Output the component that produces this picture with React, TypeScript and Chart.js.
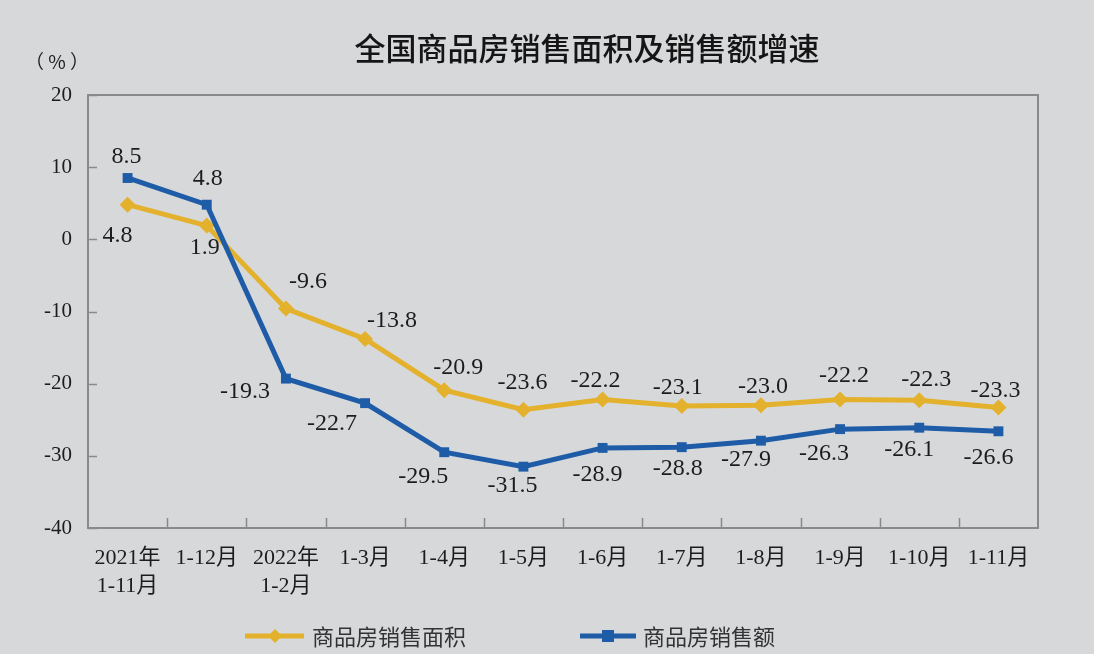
import React, { useEffect, useRef } from "react";
import { Chart, registerables } from "chart.js";

Chart.register(...registerables);

const chartTitle = "全国商品房销售面积及销售额增速";
const unitLabel = "（ % ）";
const categories: (string | string[])[] = [
  ["2021年", "1-11月"],
  "1-12月",
  ["2022年", "1-2月"],
  "1-3月",
  "1-4月",
  "1-5月",
  "1-6月",
  "1-7月",
  "1-8月",
  "1-9月",
  "1-10月",
  "1-11月",
];
const seriesNames = ["商品房销售面积", "商品房销售额"];
const areaGrowth = [4.8, 1.9, -9.6, -13.8, -20.9, -23.6, -22.2, -23.1, -23.0, -22.2, -22.3, -23.3];
const salesGrowth = [8.5, 4.8, -19.3, -22.7, -29.5, -31.5, -28.9, -28.8, -27.9, -26.3, -26.1, -26.6];
const yTicks = [20, 10, 0, -10, -20, -30, -40];

// label placement (pixel offsets from each point), kept separate from data
const areaLabelOffsets = [
  [-10, 31], [-2, 22], [22, -27], [27, -18], [14, -22], [-1, -27],
  [-7, -19], [-4, -18], [2, -19], [4, -24], [7, -21], [-3, -17],
];
const salesLabelOffsets = [
  [-1, -21], [1, -26], [-41, 13], [-33, 21], [-21, 24], [-11, 19],
  [-5, 27], [-4, 22], [-15, 19], [-16, 25], [-10, 22], [-10, 26],
];

const YELLOW = "#e3b12c";
const BLUE = "#1f5ca8";
const BG = "#d7d8da";
const AXIS = "#8a8a8a";
const TEXT = "#1c1c1c";
const SERIF = '"Liberation Serif", "DejaVu Serif", "Noto Sans CJK SC", serif';
const CJK = '"Noto Sans CJK SC", sans-serif';

export default function App() {
  const ref = useRef<HTMLCanvasElement>(null);

  useEffect(() => {
    const canvas = ref.current;
    if (!canvas) return;

    const overlay = {
      id: "overlay",
      beforeDraw(chart: any) {
        const c = chart.ctx;
        c.save();
        c.fillStyle = BG;
        c.fillRect(0, 0, chart.width, chart.height);
        c.restore();
      },
      afterDatasetsDraw(chart: any) {
        const c = chart.ctx;
        const { left, right, top, bottom } = chart.chartArea;
        const ys = chart.scales.y;
        c.save();
        // frame
        c.strokeStyle = AXIS;
        c.lineWidth = 2;
        c.strokeRect(left, top, right - left, bottom - top);
        // inner ticks y
        c.lineWidth = 1.5;
        yTicks.forEach((v) => {
          const y = Math.round(ys.getPixelForValue(v)) + 0.5;
          c.beginPath();
          c.moveTo(left, y);
          c.lineTo(left + 9, y);
          c.stroke();
        });
        // inner ticks x (category boundaries)
        const n = categories.length;
        const w = (right - left) / n;
        for (let i = 1; i < n; i++) {
          const x = Math.round(left + i * w) + 0.5;
          c.beginPath();
          c.moveTo(x, bottom);
          c.lineTo(x, bottom - 10);
          c.stroke();
        }
        // data labels
        c.fillStyle = TEXT;
        c.font = `24px ${SERIF}`;
        c.textAlign = "center";
        c.textBaseline = "middle";
        const drawLabels = (dsIndex: number, values: number[], offs: number[][]) => {
          const meta = chart.getDatasetMeta(dsIndex);
          meta.data.forEach((pt: any, i: number) => {
            const [dx, dy] = offs[i];
            c.fillText(values[i].toFixed(1), pt.x + dx, pt.y + dy);
          });
        };
        drawLabels(0, areaGrowth, areaLabelOffsets);
        drawLabels(1, salesGrowth, salesLabelOffsets);

        // title
        c.font = `500 31px ${CJK}`;
        c.fillStyle = "#151515";
        c.fillText(chartTitle, 587, 48);
        // unit
        c.font = `19px ${CJK}`;
        c.fillStyle = TEXT;
        c.fillText(unitLabel, 57, 62);

        // legend
        const ly = 636;
        c.lineWidth = 5;
        c.strokeStyle = YELLOW;
        c.beginPath();
        c.moveTo(245, ly);
        c.lineTo(304, ly);
        c.stroke();
        c.fillStyle = YELLOW;
        c.beginPath();
        c.moveTo(275, ly - 7);
        c.lineTo(282, ly);
        c.lineTo(275, ly + 7);
        c.lineTo(268, ly);
        c.closePath();
        c.fill();
        c.strokeStyle = BLUE;
        c.beginPath();
        c.moveTo(580, ly);
        c.lineTo(636, ly);
        c.stroke();
        c.fillStyle = BLUE;
        c.fillRect(602, ly - 6, 12, 12);
        c.font = `22px ${CJK}`;
        c.fillStyle = "#333";
        c.textAlign = "left";
        c.fillText(seriesNames[0], 312, ly + 1);
        c.fillText(seriesNames[1], 643, ly + 1);
        c.restore();
      },
    };

    const chart = new Chart(canvas, {
      type: "line",
      data: {
        labels: categories as any,
        datasets: [
          {
            label: seriesNames[0],
            data: areaGrowth,
            borderColor: YELLOW,
            backgroundColor: YELLOW,
            borderWidth: 5,
            pointStyle: "rectRot",
            pointRadius: 8,
            pointBorderWidth: 0,
            tension: 0,
            order: 1,
          },
          {
            label: seriesNames[1],
            data: salesGrowth,
            borderColor: BLUE,
            backgroundColor: BLUE,
            borderWidth: 5,
            pointStyle: "rect",
            pointRadius: 7,
            pointBorderWidth: 0,
            tension: 0,
            order: 0,
          },
        ],
      },
      options: {
        responsive: false,
        animation: false,
        layout: { padding: { left: 0, right: 56, top: 95, bottom: 0 } },
        plugins: {
          legend: { display: false },
          title: { display: false },
          tooltip: { enabled: false },
        },
        scales: {
          x: {
            offset: true,
            grid: { display: false, drawTicks: false },
            border: { display: false },
            ticks: {
              color: TEXT,
              font: { family: SERIF, size: 22, lineHeight: 1.27 },
              padding: 16,
              maxRotation: 0,
              autoSkip: false,
            },
            afterFit(s: any) {
              s.height = 126;
            },
          },
          y: {
            min: -40,
            max: 20,
            grid: { display: false, drawTicks: false },
            border: { display: false },
            ticks: {
              color: TEXT,
              font: { family: SERIF, size: 21 },
              padding: 16,
            },
            afterBuildTicks(s: any) {
              s.ticks = yTicks.map((v) => ({ value: v }));
            },
            afterFit(s: any) {
              s.width = 88;
            },
          },
        },
      },
      plugins: [overlay],
    });

    return () => chart.destroy();
  }, []);

  return (
    <div style={{ position: "fixed", left: 0, top: 0, width: 1094, height: 654 }}>
      <canvas ref={ref} width={1094} height={654} style={{ display: "block" }} />
    </div>
  );
}
